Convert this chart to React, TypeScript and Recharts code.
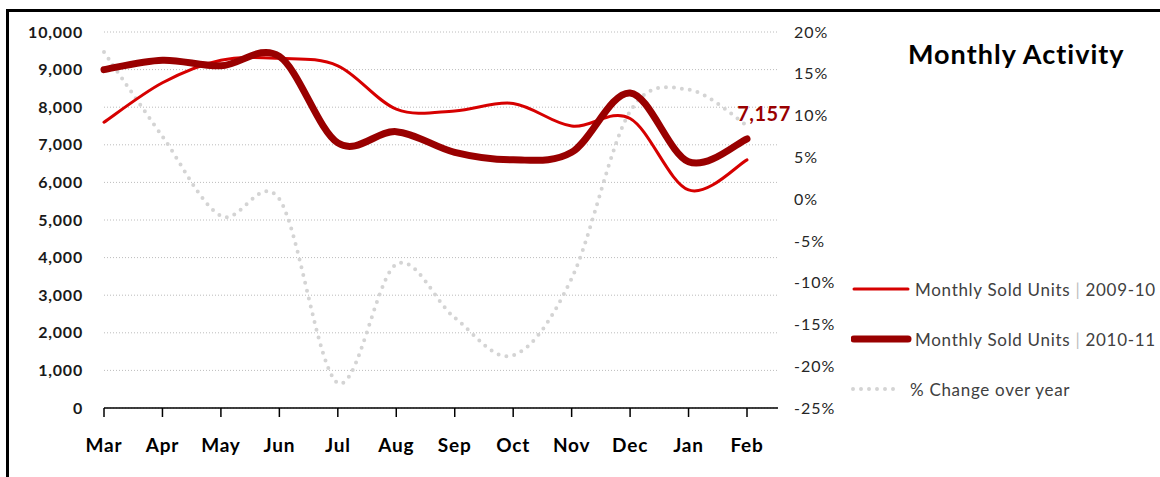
import { LineChart, Line, XAxis, YAxis, CartesianGrid, LabelList } from "recharts";

const MONTHS = ["Mar", "Apr", "May", "Jun", "Jul", "Aug", "Sep", "Oct", "Nov", "Dec", "Jan", "Feb"];
const UNITS_2009_10 = [7600, 8650, 9250, 9300, 9100, 7950, 7900, 8100, 7500, 7700, 5800, 6600];
const UNITS_2010_11 = [9000, 9250, 9100, 9350, 7050, 7350, 6800, 6600, 6800, 8380, 6550, 7157];
const PCT_CHANGE = [17.6, 7.5, -2, 0, -22, -7.8, -14.2, -18.7, -9.5, 10.5, 13.1, 8.8];
const UNIT_TICKS = [0, 1000, 2000, 3000, 4000, 5000, 6000, 7000, 8000, 9000, 10000];
const PCT_TICKS = [-25, -20, -15, -10, -5, 0, 5, 10, 15, 20];

const RED = "#d60000";
const DARK_RED = "#990000";
const GREY_DOTS = "#d4d4d4";
const FONT = "Lato, 'Liberation Sans', sans-serif";

const data = MONTHS.map((month, i) => ({
  month,
  y2010: UNITS_2009_10[i],
  y2011: UNITS_2010_11[i],
  pct: PCT_CHANGE[i],
}));

// Excel-style smoothed line (uniform Catmull-Rom through every point)
function excelSmooth(context: any) {
  let pts: [number, number][] = [];
  return {
    areaStart() {},
    areaEnd() {},
    lineStart() {
      pts = [];
    },
    lineEnd() {
      if (!pts.length) return;
      context.moveTo(pts[0][0], pts[0][1]);
      for (let i = 0; i < pts.length - 1; i++) {
        const p0 = pts[Math.max(i - 1, 0)];
        const p1 = pts[i];
        const p2 = pts[i + 1];
        const p3 = pts[Math.min(i + 2, pts.length - 1)];
        context.bezierCurveTo(
          p1[0] + (p2[0] - p0[0]) / 6,
          p1[1] + (p2[1] - p0[1]) / 6,
          p2[0] - (p3[0] - p1[0]) / 6,
          p2[1] - (p3[1] - p1[1]) / 6,
          p2[0],
          p2[1],
        );
      }
    },
    point(x: number, y: number) {
      pts.push([+x, +y]);
    },
  };
}

const lastIndex = MONTHS.length - 1;

function LastValueLabel(props: any) {
  const { x, y, index, value } = props;
  if (index !== lastIndex) return null;
  return (
    <text
      x={x + 17}
      y={y - 18}
      textAnchor="middle"
      fill={DARK_RED}
      fontFamily={FONT}
      fontWeight={700}
      fontSize={20}
      letterSpacing={0.5}
    >
      {Number(value).toLocaleString("en-US")}
    </text>
  );
}

function LegendRow({ label, kind }: { label: string; kind: "thin" | "thick" | "dots" }) {
  const [main, year] = label.split("|");
  return (
    <div style={{ display: "flex", alignItems: "center", height: 24, marginBottom: 26 }}>
      <svg width={62} height={14} style={{ flex: "none" }}>
        {kind === "thin" && (
          <line x1={3} y1={7} x2={57} y2={7} stroke={RED} strokeWidth={3} strokeLinecap="round" />
        )}
        {kind === "thick" && (
          <line x1={3} y1={7} x2={57} y2={7} stroke={DARK_RED} strokeWidth={7} strokeLinecap="round" />
        )}
        {kind === "dots" && (
          <line
            x1={2}
            y1={7}
            x2={50}
            y2={7}
            stroke={GREY_DOTS}
            strokeWidth={4}
            strokeDasharray="0 8"
            strokeLinecap="round"
          />
        )}
      </svg>
      <span style={{ whiteSpace: "nowrap", marginLeft: kind === "dots" ? -3 : 2 }}>
        {main}
        {year !== undefined && (
          <>
            <span style={{ color: "#c0c0c0" }}>|</span>
            {year}
          </>
        )}
      </span>
    </div>
  );
}

export default function App() {
  return (
    <div
      style={{
        position: "fixed",
        left: 0,
        top: 0,
        width: 1160,
        height: 477,
        overflow: "hidden",
        background: "#fff",
        fontFamily: FONT,
      }}
    >
      <div
        style={{
          position: "absolute",
          left: 6,
          top: 9,
          width: 1300,
          height: 600,
          border: "3px solid #000",
        }}
      />
      <div style={{ position: "absolute", left: 0, top: 0 }}>
        <LineChart
          width={1160}
          height={477}
          data={data}
          margin={{ top: 32, right: 0, bottom: 0, left: 0 }}
        >
          <CartesianGrid
            yAxisId="units"
            horizontal
            vertical={false}
            stroke="#bcbcbc"
            strokeDasharray="1 2"
          />
          <XAxis
            dataKey="month"
            interval={0}
            height={69}
            padding={{ left: 0, right: 31 }}
            axisLine={{ stroke: "#000", strokeWidth: 1.5 }}
            tickLine={{ stroke: "#000", strokeWidth: 1.5 }}
            tickSize={9}
            tickMargin={22}
            tick={{ fill: "#000", fontSize: 19, fontWeight: 700, fontFamily: FONT, letterSpacing: 0.8 }}
          />
          <YAxis
            yAxisId="units"
            orientation="left"
            width={104}
            domain={[0, 10000]}
            ticks={UNIT_TICKS}
            interval={0}
            axisLine={false}
            tickLine={false}
            tickMargin={15}
            tickFormatter={(v: number) => v.toLocaleString("en-US")}
            tick={{ fill: "#1a1a1a", fontSize: 16, fontWeight: 700, fontFamily: FONT, letterSpacing: 0.8 }}
          />
          <YAxis
            yAxisId="pct"
            orientation="right"
            width={382}
            domain={[-25, 20]}
            ticks={PCT_TICKS}
            interval={0}
            axisLine={false}
            tickLine={false}
            tickMargin={10}
            tickFormatter={(v: number) => `${v}%`}
            tick={{ fill: "#262626", fontSize: 16, fontFamily: FONT, textAnchor: "start", letterSpacing: 1 }}
          />
          <Line
            yAxisId="pct"
            dataKey="pct"
            type={excelSmooth as any}
            stroke={GREY_DOTS}
            strokeWidth={4}
            strokeDasharray="0 8"
            strokeLinecap="round"
            dot={false}
            activeDot={false}
            isAnimationActive={false}
          />
          <Line
            yAxisId="units"
            dataKey="y2010"
            type={excelSmooth as any}
            stroke={RED}
            strokeWidth={3}
            strokeLinecap="round"
            dot={false}
            activeDot={false}
            isAnimationActive={false}
          />
          <Line
            yAxisId="units"
            dataKey="y2011"
            type={excelSmooth as any}
            stroke={DARK_RED}
            strokeWidth={7}
            strokeLinecap="round"
            dot={false}
            activeDot={false}
            isAnimationActive={false}
          >
            <LabelList dataKey="y2011" content={<LastValueLabel />} />
          </Line>
        </LineChart>
      </div>
      <div
        style={{
          position: "absolute",
          left: 908,
          top: 37,
          fontSize: 27,
          fontWeight: 700,
          color: "#000",
          whiteSpace: "nowrap",
          letterSpacing: 1,
        }}
      >
        Monthly Activity
      </div>
      <div
        style={{
          position: "absolute",
          left: 851,
          top: 277,
          fontSize: 17,
          color: "#404040",
          letterSpacing: 0.7,
        }}
      >
        <LegendRow label="Monthly Sold Units | 2009-10" kind="thin" />
        <LegendRow label="Monthly Sold Units | 2010-11" kind="thick" />
        <LegendRow label="% Change over year" kind="dots" />
      </div>
    </div>
  );
}
